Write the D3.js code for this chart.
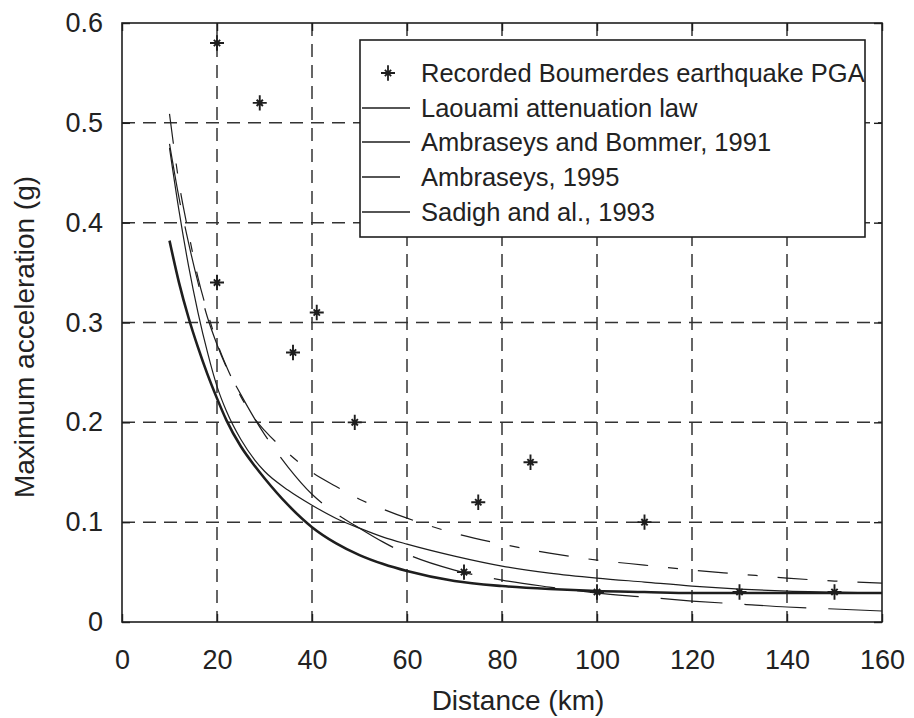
<!DOCTYPE html>
<html>
<head>
<meta charset="utf-8">
<script src="https://cdn.jsdelivr.net/npm/d3@7"></script>
<style>
  html, body { margin: 0; padding: 0; background: #fff; }
  svg { display: block; }
  text { font-family: "Liberation Sans", Arial, Helvetica, sans-serif; fill: #222; }
</style>
</head>
<body>
<svg id="chart" width="914" height="718"></svg>
<script>
// ---------- data ----------
const xTicks = [0, 20, 40, 60, 80, 100, 120, 140, 160];
const yTicks = [0, 0.1, 0.2, 0.3, 0.4, 0.5, 0.6];
const yTickLabels = ["0", "0.1", "0.2", "0.3", "0.4", "0.5", "0.6"];

const recordedDist = [20, 29, 20, 41, 36, 49, 75, 86, 72, 110, 100, 130, 150];
const recordedPGA  = [0.58, 0.52, 0.34, 0.31, 0.27, 0.20, 0.12, 0.16, 0.05, 0.10, 0.03, 0.03, 0.03];

const curveDist = [10, 12, 14, 16, 18, 20, 22, 25, 28, 30, 35, 40, 45, 50, 55, 60, 70, 80, 90, 100, 110, 120, 130, 140, 150, 160];
const laouami   = [0.382, 0.340, 0.305, 0.275, 0.248, 0.224, 0.202, 0.176, 0.156, 0.144, 0.117, 0.095, 0.079, 0.067, 0.058, 0.051, 0.041, 0.036, 0.033, 0.031, 0.030, 0.029, 0.029, 0.029, 0.029, 0.029];
const ambBommer = [0.475, 0.412, 0.357, 0.310, 0.270, 0.236, 0.211, 0.183, 0.162, 0.151, 0.132, 0.117, 0.104, 0.094, 0.085, 0.078, 0.066, 0.056, 0.049, 0.044, 0.040, 0.036, 0.033, 0.031, 0.030, 0.029];
const amb1995   = [0.479, 0.425, 0.380, 0.340, 0.305, 0.278, 0.255, 0.228, 0.203, 0.188, 0.155, 0.128, 0.109, 0.094, 0.080, 0.068, 0.052, 0.042, 0.035, 0.029, 0.025, 0.021, 0.018, 0.015, 0.013, 0.011];
const sadigh    = [0.509, 0.440, 0.390, 0.345, 0.310, 0.280, 0.256, 0.226, 0.203, 0.192, 0.169, 0.150, 0.136, 0.123, 0.113, 0.104, 0.089, 0.078, 0.069, 0.062, 0.057, 0.052, 0.048, 0.044, 0.041, 0.039];

const legendLabels = ["Recorded Boumerdes earthquake PGA", "Laouami attenuation law", "Ambraseys and Bommer, 1991", "Ambraseys, 1995", "Sadigh and al., 1993"];
const xLabel = "Distance (km)";
const yLabel = "Maximum acceleration (g)";

// ---------- layout ----------
const M = { left: 122, right: 882, top: 23, bottom: 622 };
const ink = "#1e1e1e";
const svg = d3.select("#chart");

const x = d3.scaleLinear().domain([0, 160]).range([M.left, M.right]);
const y = d3.scaleLinear().domain([0, 0.6]).range([M.bottom, M.top]);

// grid (dashed)
const grid = svg.append("g");
grid.selectAll("line.vx").data(xTicks.slice(1, -1)).join("line")
  .attr("x1", d => x(d)).attr("x2", d => x(d))
  .attr("y1", M.top).attr("y2", M.bottom)
  .attr("stroke", "#333").attr("stroke-width", 1.5).attr("stroke-dasharray", "13,8");
grid.selectAll("line.hy").data(yTicks.slice(1, -1)).join("line")
  .attr("y1", d => y(d)).attr("y2", d => y(d))
  .attr("x1", M.left).attr("x2", M.right)
  .attr("stroke", "#333").attr("stroke-width", 1.5).attr("stroke-dasharray", "13,8");

// axes with inward ticks on all four sides
const tickLen = 8;
const axB = svg.append("g").attr("transform", `translate(0,${M.bottom})`)
  .call(d3.axisBottom(x).tickValues(xTicks).tickSizeInner(-tickLen).tickSizeOuter(0).tickPadding(28));
const axT = svg.append("g").attr("transform", `translate(0,${M.top})`)
  .call(d3.axisTop(x).tickValues(xTicks).tickSizeInner(-tickLen).tickSizeOuter(0).tickFormat(""));
const axL = svg.append("g").attr("transform", `translate(${M.left},0)`)
  .call(d3.axisLeft(y).tickValues(yTicks).tickSizeInner(-tickLen).tickSizeOuter(0).tickPadding(19)
    .tickFormat((d, i) => yTickLabels[i]));
const axR = svg.append("g").attr("transform", `translate(${M.right},0)`)
  .call(d3.axisRight(y).tickValues(yTicks).tickSizeInner(-tickLen).tickSizeOuter(0).tickFormat(""));
[axB, axT, axL, axR].forEach(a => {
  a.select(".domain").remove();
  a.selectAll(".tick line").attr("stroke", ink).attr("stroke-width", 1.4);
  a.selectAll("text").attr("font-size", 27).attr("fill", "#222")
    .attr("font-family", '"Liberation Sans", Arial, sans-serif');
});

// curves
const line = d3.line().x((d, i) => x(curveDist[i])).y(d => y(d)).curve(d3.curveMonotoneX);
const series = [
  { v: laouami,   w: 2.6, dash: null },
  { v: ambBommer, w: 1.2, dash: null },
  { v: amb1995,   w: 1.2, dash: "62,22" },
  { v: sadigh,    w: 1.2, dash: "30,20,10,20" }
];
svg.append("clipPath").attr("id", "plotclip").append("rect")
  .attr("x", M.left).attr("y", M.top).attr("width", M.right - M.left).attr("height", M.bottom - M.top);
const curves = svg.append("g").attr("clip-path", "url(#plotclip)");
series.forEach(s => {
  curves.append("path").datum(s.v).attr("d", line)
    .attr("fill", "none").attr("stroke", ink).attr("stroke-width", s.w)
    .attr("stroke-dasharray", s.dash).attr("stroke-linejoin", "round");
});

// asterisk-like marker
const starSymbol = {
  draw(ctx, size) {
    const a = Math.sqrt(size) / 2, b = a * 0.45;
    ctx.moveTo(0, -a * 1.1); ctx.lineTo(0, a * 1.1);
    ctx.moveTo(-a, 0); ctx.lineTo(a, 0);
    ctx.moveTo(-b, -b); ctx.lineTo(b, b);
    ctx.moveTo(-b, b); ctx.lineTo(b, -b);
  }
};
const star = d3.symbol().type(starSymbol).size(196);
svg.append("g").selectAll("path").data(recordedPGA).join("path")
  .attr("transform", (d, i) => `translate(${x(recordedDist[i])},${y(d)})`)
  .attr("d", star).attr("fill", "none").attr("stroke", ink).attr("stroke-width", 1.9);

// plot frame
svg.append("rect").attr("x", M.left).attr("y", M.top)
  .attr("width", M.right - M.left).attr("height", M.bottom - M.top)
  .attr("fill", "none").attr("stroke", ink).attr("stroke-width", 1.6);

// legend
const lg = svg.append("g");
lg.append("rect").attr("x", 360).attr("y", 40).attr("width", 505).attr("height", 197)
  .attr("fill", "#fff").attr("stroke", ink).attr("stroke-width", 1.6);
const rowY = [73, 108, 142, 177, 212];
const lineEnds = [null, 410, 410, 400, 410];
legendLabels.forEach((t, i) => {
  lg.append("text").attr("x", 421).attr("y", rowY[i]).attr("dy", "0.36em")
    .attr("font-size", 25.5).text(t);
  if (i === 0) {
    lg.append("path").attr("transform", `translate(388,${rowY[i]})`).attr("d", star)
      .attr("fill", "none").attr("stroke", ink).attr("stroke-width", 1.8);
  } else {
    lg.append("line").attr("x1", 362).attr("x2", lineEnds[i]).attr("y1", rowY[i]).attr("y2", rowY[i])
      .attr("stroke", ink).attr("stroke-width", 1.4);
  }
});

// axis titles
svg.append("text").attr("x", 518).attr("y", 710)
  .attr("text-anchor", "middle").attr("font-size", 28).text(xLabel);
svg.append("text").attr("transform", `translate(34,337) rotate(-90)`)
  .attr("text-anchor", "middle").attr("font-size", 28).text(yLabel);
</script>
</body>
</html>
